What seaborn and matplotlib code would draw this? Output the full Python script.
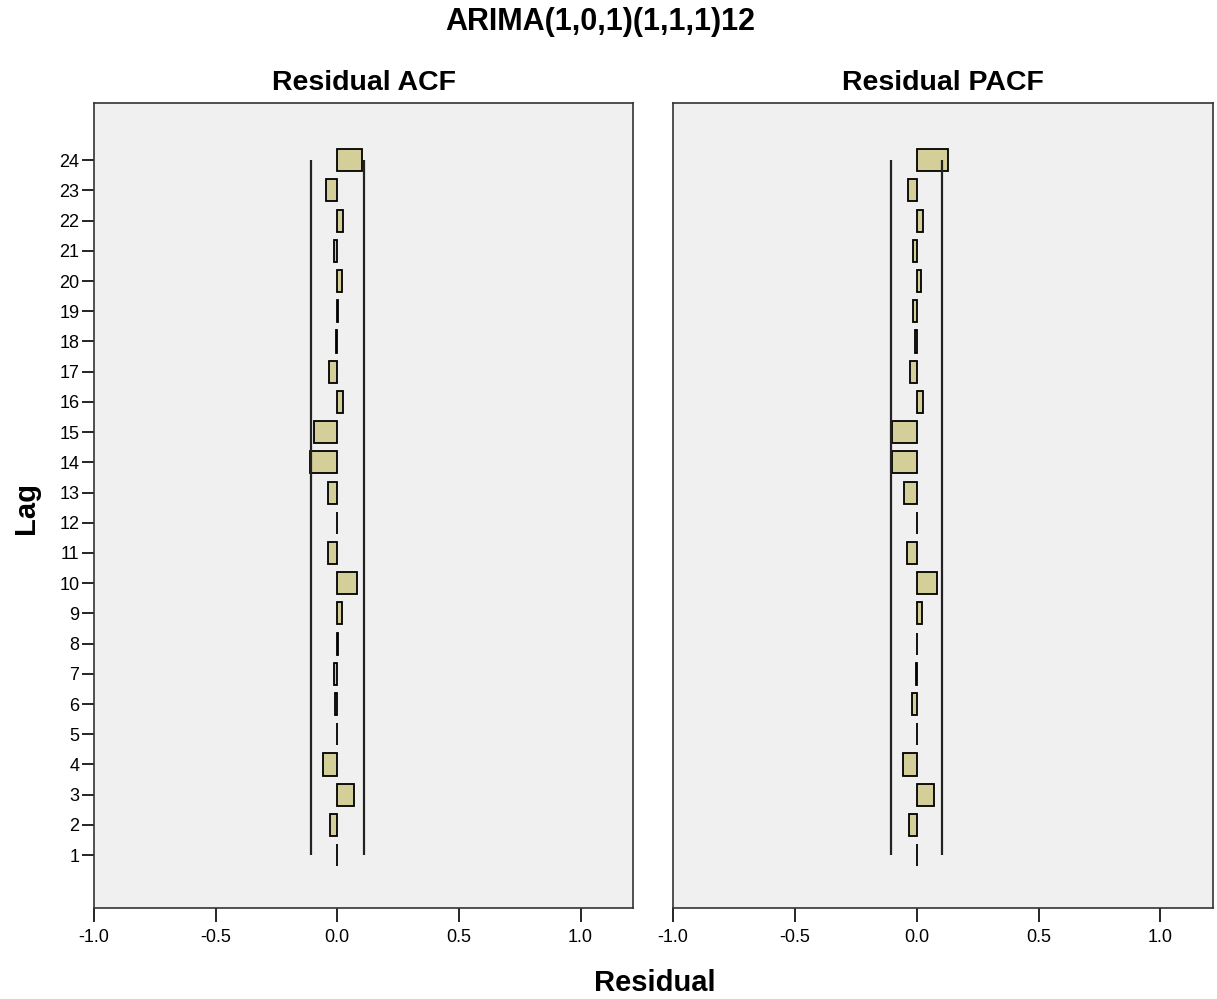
import numpy as np
import pandas as pd
import seaborn as sns
import matplotlib.pyplot as plt

# Residual ACF / PACF values, lag 1..24
lags = list(range(1, 25))
acf_vals = [0.000, -0.030, 0.068, -0.058, -0.003, -0.008, -0.015, 0.005,
            0.020, 0.082, -0.040, -0.003, -0.040, -0.110, -0.096, 0.023,
            -0.033, -0.005, 0.003, 0.020, -0.014, 0.025, -0.045, 0.103]
pacf_vals = [0.000, -0.030, 0.070, -0.058, 0.000, -0.019, -0.003, 0.000,
             0.023, 0.085, -0.040, 0.000, -0.054, -0.102, -0.102, 0.028,
             -0.029, -0.006, -0.015, 0.018, -0.015, 0.028, -0.036, 0.127]
acf_limit = 0.108
pacf_limit = 0.105

panels = [("Residual ACF", acf_vals, acf_limit),
          ("Residual PACF", pacf_vals, pacf_limit)]

sns.set_theme(style="white")
plt.rcParams['font.family'] = ['Liberation Sans', 'DejaVu Sans']
plt.rcParams['text.color'] = 'black'
plt.rcParams['xtick.color'] = 'black'
plt.rcParams['ytick.color'] = 'black'

fig = plt.figure(figsize=(12.17, 9.99), dpi=100)
ax1 = fig.add_axes([0.0772, 0.0911, 0.443, 0.806])
ax2 = fig.add_axes([0.553, 0.0911, 0.4437, 0.806])

for ax, (name, vals, lim) in zip([ax1, ax2], panels):
    df = pd.DataFrame({"lag": lags, "value": vals})
    sns.barplot(data=df, x="value", y="lag", orient="h", native_scale=True,
                width=0.73, color="#D4CF98", edgecolor="black", linewidth=1.3,
                saturation=1, ax=ax)
    ax.vlines([-lim, lim], lags[0], lags[-1], color="#222222", linewidth=1.6)
    ax.set_facecolor("#F0F0F0")
    ax.set_xlim(-1.0, 1.216)
    ax.set_ylim(-0.75, 25.9)
    ax.set_xticks([-1.0, -0.5, 0.0, 0.5, 1.0])
    ax.set_xticklabels(["-1.0", "-0.5", "0.0", "0.5", "1.0"], fontsize=13)
    ax.tick_params(axis="x", bottom=True, length=10, width=1.2, color="black", pad=5)
    ax.set_title(name, fontsize=20.5, fontweight="bold", pad=9, color="black")
    ax.set_xlabel("")
    ax.set_ylabel("")
    for s in ax.spines.values():
        s.set_color("#333333")
        s.set_linewidth(1.2)

ax1.set_yticks(lags)
ax1.set_yticklabels([str(l) for l in lags], fontsize=13)
ax1.tick_params(axis="y", left=True, length=9, width=1.2, color="black", pad=1.5)
ax2.set_yticks([])

fig.text(0.493, 0.978, "ARIMA(1,0,1)(1,1,1)12", ha="center", va="center",
         fontsize=22, fontweight="bold")
fig.text(0.538, 0.016, "Residual", ha="center", va="center",
         fontsize=21, fontweight="bold")
fig.text(0.021, 0.491, "Lag", ha="center", va="center", rotation=90,
         fontsize=21, fontweight="bold")

fig.savefig("out.png", dpi=100, facecolor="white")
